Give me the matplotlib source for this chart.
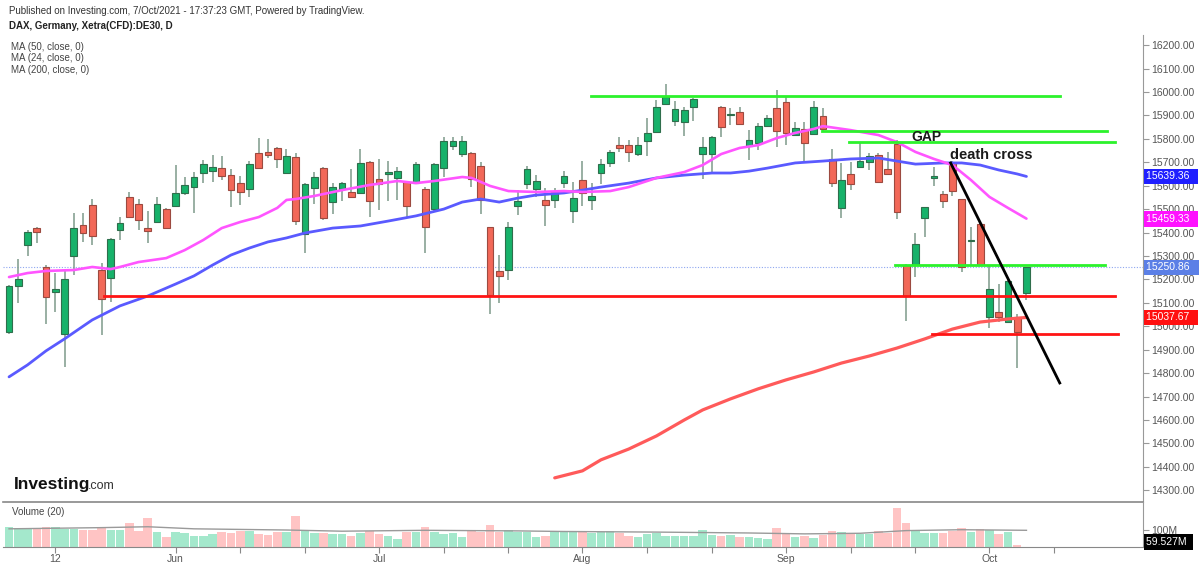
import matplotlib
matplotlib.use("Agg")
import matplotlib.pyplot as plt
import matplotlib.transforms as mtransforms
import numpy as np

plt.rcParams['font.family'] = ['Liberation Sans', 'DejaVu Sans']

# daily candles, DAX CFD, early May .. 7 Oct 2021 (index = trading day)
opens = [14975, 15170, 15348, 15420, 15255, 15145, 14969, 15301, 15433, 15518,
         15241, 15207, 15412, 15552, 15523, 15420, 15446, 15500, 15514, 15570,
         15595, 15655, 15663, 15676, 15646, 15612, 15586, 15740, 15744, 15761,
         15655, 15723, 15395, 15591, 15676, 15531, 15586, 15574, 15569, 15701,
         15629, 15650, 15633, 15616, 15612, 15586, 15501, 15676, 15770, 15736,
         15740, 15684, 15424, 15237, 15241, 15514, 15608, 15586, 15540, 15540,
         15612, 15493, 15625, 15540, 15655, 15697, 15774, 15774, 15736, 15791,
         15829, 15949, 15876, 15872, 15936, 15736, 15736, 15936, 15902, 15914,
         15770, 15782, 15855, 15932, 15957, 15817, 15842, 15821, 15897, 15714,
         15505, 15650, 15680, 15701, 15731, 15672, 15778, 15263, 15263, 15463,
         15633, 15565, 15697, 15544, 15363, 15437, 15041, 15062, 15020, 15041,
         15143]
highs = [15175, 15285, 15410, 15425, 15260, 15228, 15240, 15485, 15484, 15544,
         15271, 15375, 15467, 15574, 15544, 15493, 15552, 15505, 15690, 15638,
         15660, 15710, 15731, 15727, 15672, 15642, 15706, 15805, 15799, 15765,
         15757, 15740, 15612, 15659, 15680, 15612, 15616, 15672, 15757, 15705,
         15714, 15706, 15680, 15620, 15701, 15595, 15697, 15808, 15808, 15812,
         15745, 15701, 15424, 15305, 15446, 15582, 15684, 15646, 15591, 15591,
         15663, 15616, 15706, 15612, 15714, 15753, 15808, 15795, 15808, 15889,
         15966, 16034, 15961, 15936, 15974, 15808, 15810, 15940, 15932, 15936,
         15838, 15868, 15902, 16008, 15983, 15872, 15872, 15961, 15932, 15757,
         15697, 15701, 15787, 15740, 15740, 15744, 15795, 15265, 15399, 15510,
         15680, 15578, 15706, 15545, 15424, 15440, 15263, 15182, 15207, 15054,
         15255]
lows = [14965, 15100, 15300, 15356, 15011, 15062, 14825, 15220, 15360, 15348,
        14964, 15105, 15369, 15460, 15412, 15356, 15440, 15418, 15510, 15560,
        15485, 15612, 15616, 15625, 15510, 15518, 15552, 15670, 15718, 15676,
        15650, 15433, 15314, 15523, 15455, 15480, 15535, 15548, 15565, 15467,
        15497, 15535, 15540, 15467, 15610, 15314, 15488, 15638, 15753, 15723,
        15595, 15480, 15054, 15101, 15199, 15476, 15586, 15552, 15429, 15505,
        15591, 15441, 15514, 15497, 15608, 15680, 15744, 15701, 15727, 15727,
        15825, 15944, 15855, 15812, 15876, 15629, 15650, 15808, 15859, 15859,
        15710, 15753, 15851, 15765, 15774, 15815, 15697, 15815, 15829, 15595,
        15463, 15582, 15678, 15668, 15612, 15646, 15458, 15024, 15211, 15382,
        15599, 15505, 15557, 15233, 15263, 15260, 14994, 15020, 15015, 14824,
        15113]
closes = [15170, 15202, 15403, 15403, 15123, 15160, 15203, 15420, 15399, 15386,
          15118, 15373, 15442, 15467, 15454, 15408, 15523, 15420, 15570, 15603,
          15638, 15693, 15680, 15642, 15582, 15574, 15693, 15676, 15731, 15714,
          15727, 15450, 15608, 15638, 15460, 15595, 15612, 15552, 15697, 15535,
          15608, 15660, 15663, 15514, 15693, 15424, 15693, 15791, 15791, 15791,
          15629, 15540, 15135, 15216, 15424, 15535, 15672, 15620, 15518, 15574,
          15642, 15548, 15569, 15557, 15693, 15744, 15761, 15744, 15774, 15825,
          15936, 15978, 15927, 15923, 15970, 15765, 15808, 15851, 15906, 15863,
          15795, 15855, 15889, 15834, 15825, 15846, 15782, 15936, 15842, 15612,
          15625, 15608, 15706, 15727, 15616, 15650, 15488, 15131, 15352, 15510,
          15642, 15535, 15578, 15254, 15367, 15263, 15160, 15041, 15194, 14977,
          15254]
# volume in millions
volumes = [111, 107, 105, 105, 111, 111, 104, 104, 101, 101,
           107, 101, 101, 122, 96, 142, 92, 76, 92, 90,
           81, 81, 85, 92, 90, 96, 96, 86, 83, 94,
           94, 148, 96, 90, 90, 87, 85, 81, 90, 97,
           86, 81, 71, 92, 93, 111, 93, 86, 90, 78,
           98, 92, 116, 93, 99, 92, 92, 76, 81, 92,
           92, 97, 92, 90, 92, 97, 90, 80, 76, 86,
           90, 80, 80, 80, 80, 99, 84, 80, 84, 76,
           78, 73, 69, 107, 86, 76, 80, 74, 84, 97,
           92, 90, 86, 86, 96, 90, 174, 125, 96, 90,
           90, 90, 96, 107, 92, 105, 99, 87, 92, 50,
           0]
vol_ma_idx = [0, 10, 15, 20, 30, 36, 45, 55, 60, 70, 80, 86, 92, 97, 103, 110]
vol_ma = [104, 108, 111, 104, 100, 96, 99, 97, 95, 93, 90, 87, 89, 98, 101, 99]

# moving averages
ma50_idx = [0, 2, 4, 6, 9, 12, 15, 18, 20, 22, 24, 26, 28, 30, 32, 35, 38, 41, 44,
            47, 49, 51, 53, 55, 57, 60, 62, 64, 67, 70, 73, 76, 78, 80, 82, 85, 88,
            91, 94, 96, 98, 101, 103, 105, 107, 109, 110]
ma50 = [14784, 14835, 14895, 14946, 15027, 15087, 15129, 15180, 15215, 15261,
        15304, 15334, 15360, 15377, 15398, 15419, 15428, 15449, 15471, 15500,
        15530, 15543, 15530, 15547, 15560, 15569, 15581, 15594, 15611, 15633,
        15645, 15654, 15654, 15662, 15675, 15697, 15705, 15714, 15718, 15705,
        15692, 15697, 15697, 15688, 15667, 15650, 15639.36]
ma24_idx = [0, 2, 4, 7, 9, 11, 12, 14, 17, 19, 21, 23, 25, 27, 29, 30, 31, 33, 36,
            39, 42, 44, 46, 49, 50, 52, 54, 57, 60, 62, 65, 67, 70, 73, 75, 77, 79,
            81, 83, 85, 87, 88, 91, 94, 96, 98, 100, 102, 104, 106, 108, 110]
ma24 = [15210, 15227, 15236, 15240, 15253, 15244, 15253, 15274, 15291, 15325,
        15368, 15419, 15445, 15466, 15505, 15539, 15543, 15556, 15581, 15603,
        15620, 15611, 15620, 15637, 15633, 15599, 15577, 15573, 15577, 15573,
        15577, 15594, 15633, 15658, 15688, 15735, 15761, 15773, 15803, 15825,
        15842, 15854, 15837, 15816, 15786, 15744, 15714, 15688, 15624, 15552,
        15505, 15459.33]
ma200_idx = [59, 62, 64, 67, 70, 73, 75, 78, 81, 84, 87, 90, 93, 96, 99, 102, 105, 108, 110]
ma200 = [14353, 14383, 14430, 14476, 14532, 14600, 14643, 14690, 14733, 14771,
         14805, 14843, 14873, 14907, 14946, 14988, 15018, 15031, 15037.67]

# drawn levels: (start idx, end idx, price)
green_levels = [(62.9, 113.6, 15984), (87.9, 118.7, 15833),
                (90.8, 119.6, 15786), (95.8, 118.5, 15262)]
red_levels = [(10.3, 119.6, 15129), (99.8, 119.9, 14967)]
trend_x = [101.8, 113.6]
trend_y = [15697, 14758]
last_price = 15250.86

month_ticks = [5, 18, 25, 32, 40, 47, 54, 62, 69, 76, 84, 91, 98, 106, 113]
month_labels = ['12', 'Jun', '', '', 'Jul', '', '', 'Aug', '', '', 'Sep', '', '', 'Oct', '']

W, H = 1200, 565
fig = plt.figure(figsize=(12, 5.65), dpi=100)
ax = fig.add_axes([3 / W, 1 - 502 / H, 1140 / W, 467 / H])
axv = fig.add_axes([3 / W, 1 - 547 / H, 1140 / W, 45 / H], sharex=ax)
axv.patch.set_alpha(0)

x = np.arange(len(opens))
o = np.array(opens, float)
c = np.array(closes, float)
up = c >= o
body_lo = np.minimum(o, c)
body_h = np.maximum(np.abs(c - o), 4)

ax.vlines(x, lows, highs, color='#7d9a8a', lw=1.1, zorder=2)
ax.bar(x[up], body_h[up], 0.72, bottom=body_lo[up], color='#17b26a',
       edgecolor='#2f6e4c', lw=0.8, zorder=3)
ax.bar(x[~up], body_h[~up], 0.72, bottom=body_lo[~up], color='#f26858',
       edgecolor='#9c4a40', lw=0.8, zorder=3)

ax.plot(ma50_idx, ma50, color='#5a5aff', lw=2.0, zorder=4, solid_capstyle='round')
ax.plot(ma24_idx, ma24, color='#ff55ff', lw=1.9, zorder=4, solid_capstyle='round')
ax.plot(ma200_idx, ma200, color='#ff5a5a', lw=2.3, zorder=4, solid_capstyle='round')

ax.axhline(last_price, color='#8ea6f0', lw=0.8, ls=(0, (1, 1.5)), zorder=1)
for x0, x1, p in green_levels:
    ax.plot([x0, x1], [p, p], color='#2cf22c', lw=2.0, zorder=5)
for x0, x1, p in red_levels:
    ax.plot([x0, x1], [p, p], color='#ff1414', lw=2.0, zorder=5)
ax.plot(trend_x, trend_y, color='black', lw=2.0, zorder=5)

ax.text(99.2, 15808, 'GAP', fontsize=10, fontweight='bold', color='#1a1a1a',
        ha='center', va='center', zorder=6)
ax.text(106.2, 15731, 'death cross', fontsize=10.5, fontweight='bold', color='#1a1a1a',
        ha='center', va='center', zorder=6)

ax.set_xlim(-0.65, 122.6)
ax.set_ylim(14250, 16243)
ax.set_yticks(np.arange(14300, 16201, 100))
ax.yaxis.set_major_formatter(plt.FormatStrFormatter('%.2f'))
ax.yaxis.tick_right()
ax.tick_params(axis='y', length=4, color='#999999', labelcolor='#555555',
               labelsize=7.5, pad=2)
ax.tick_params(axis='x', bottom=False, labelbottom=False)
for s in ['top', 'left']:
    ax.spines[s].set_visible(False)
ax.spines['right'].set_color('#999999')
ax.spines['bottom'].set_color('#888888')
ax.spines['bottom'].set_linewidth(1.2)
ax.spines['bottom'].set_zorder(8)

# price labels on the right axis
trans = mtransforms.blended_transform_factory(ax.transAxes, ax.transData)
price_tags = [(15639.36, '#1f1fff'), (15459.33, '#ff11ff'),
              (last_price, '#5b7fe6'), (15037.67, '#ff1010')]
for p, col in price_tags:
    ax.text(1.003, p, '%.2f  ' % p, transform=trans, fontsize=7.5, color='white',
            ha='left', va='center', clip_on=False, zorder=10,
            bbox=dict(boxstyle='square,pad=0.28', fc=col, ec='none'))

# volume pane
vcol = ['#a4e8cc' if u else '#ffc4c4' for u in up]
axv.bar(x, volumes, 0.92, color=vcol, zorder=2)
axv.plot(vol_ma_idx, vol_ma, color='#9a9a9a', lw=1.0, zorder=3)
axv.set_ylim(42.8, 194.3)
axv.set_yticks([100])
axv.set_yticklabels(['100M'])
axv.yaxis.tick_right()
axv.tick_params(axis='y', length=4, color='#999999', labelcolor='#555555',
                labelsize=7.5, pad=2)
axv.set_xticks(month_ticks)
axv.set_xticklabels(month_labels)
axv.tick_params(axis='x', length=4, color='#888888', labelcolor='#555555',
                labelsize=7.5, pad=1)
for s in ['top', 'left']:
    axv.spines[s].set_visible(False)
axv.spines['right'].set_color('#999999')
axv.spines['bottom'].set_color('#888888')
vtrans = mtransforms.blended_transform_factory(axv.transAxes, axv.transData)
axv.text(1.003, 59.527, '59.527M ', transform=vtrans, fontsize=7.5, color='white',
         ha='left', va='center', clip_on=False, zorder=10,
         bbox=dict(boxstyle='square,pad=0.28', fc='black', ec='none'))
axv.text(0.008, 0.78, 'Volume (20)', transform=axv.transAxes, fontsize=7,
         color='#444444', va='center')

# header and watermark
def ftext(px, py, s, **kw):
    fig.text(px / W, 1 - py / H, s, va='center', ha='left', **kw)

ftext(9, 11, 'Published on Investing.com, 7/Oct/2021 - 17:37:23 GMT, Powered by TradingView.',
      fontsize=7, color='#333333')
ftext(9, 26, 'DAX, Germany, Xetra(CFD):DE30, D', fontsize=7, fontweight='bold',
      color='#222222')
ftext(11, 47, 'MA (50, close, 0)', fontsize=7, color='#444444')
ftext(11, 58, 'MA (24, close, 0)', fontsize=7, color='#444444')
ftext(11, 70, 'MA (200, close, 0)', fontsize=7, color='#444444')
ftext(14, 484, 'Investing', fontsize=12.5, fontweight='bold', color='#111111')
ftext(88, 486, '.com', fontsize=9, color='#333333')

fig.savefig('out.png', dpi=100, facecolor='white')
